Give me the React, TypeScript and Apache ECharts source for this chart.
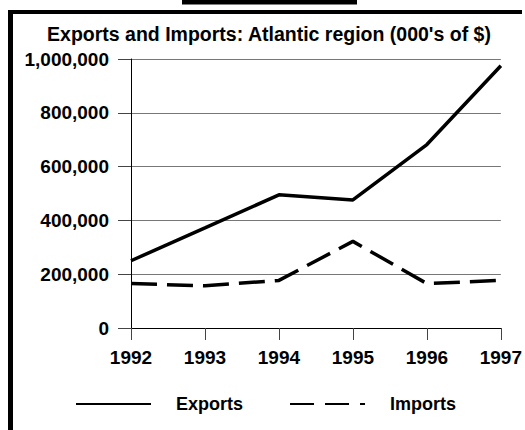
import React, { useEffect, useRef } from "react";
import * as echarts from "echarts";

const years = ["1992", "1993", "1994", "1995", "1996", "1997"];
const exportsValues = [250000, 372000, 495000, 476000, 682000, 975000];
const importsValues = [165000, 157000, 177000, 322000, 165000, 177000];
const titleText = "Exports and Imports: Atlantic region (000's of $)";
const seriesNames = ["Exports", "Imports"];

const FONT = "'Liberation Sans', Arial, sans-serif";

export default function App() {
  const ref = useRef<HTMLDivElement>(null);
  useEffect(() => {
    if (!ref.current) return;
    const chart = echarts.init(ref.current, null, { renderer: "svg" });
    chart.setOption({
      animation: false,
      backgroundColor: "#fff",
      textStyle: { fontFamily: FONT },
      graphic: [
        { type: "rect", shape: { x: 182, y: 0, width: 175, height: 4.5 }, style: { fill: "#000" } },
        { type: "rect", shape: { x: 8, y: 10, width: 514, height: 4 }, style: { fill: "#000" } },
        { type: "rect", shape: { x: 8, y: 10, width: 5, height: 420 }, style: { fill: "#000" } },
        {
          type: "text",
          x: 269,
          y: 34,
          style: {
            text: titleText,
            fill: "#000",
            font: `bold 19.5px ${FONT}`,
            textAlign: "center",
            textVerticalAlign: "middle",
          },
        },
      ],
      grid: { left: 131, right: 23, top: 59, bottom: 102 },
      xAxis: {
        type: "category",
        data: years,
        boundaryGap: false,
        axisLine: { lineStyle: { color: "#000", width: 1 } },
        axisTick: { show: true, length: 12, lineStyle: { color: "#444" } },
        axisLabel: {
          color: "#000",
          fontFamily: FONT,
          fontWeight: "bold",
          fontSize: 19,
          margin: 20,
        },
        splitLine: { show: false },
      },
      yAxis: {
        type: "value",
        min: 0,
        max: 1000000,
        interval: 200000,
        axisLine: { show: true, lineStyle: { color: "#000", width: 1 } },
        axisTick: { show: true, length: 13, lineStyle: { color: "#444" } },
        axisLabel: {
          color: "#000",
          fontFamily: FONT,
          fontWeight: "bold",
          fontSize: 19,
          margin: 22,
          formatter: (v: number) => v.toLocaleString("en-US"),
        },
        splitLine: { show: true, lineStyle: { color: "#777", width: 1 } },
      },
      legend: {
        left: 75,
        top: 395,
        padding: 0,
        itemWidth: 75,
        itemHeight: 14,
        itemGap: 46,
        textStyle: {
          color: "#000",
          fontFamily: FONT,
          fontWeight: "bold",
          fontSize: 18,
          padding: [0, 0, 0, 20],
        },
        data: [
          {
            name: seriesNames[0],
            itemStyle: { opacity: 0 },
            lineStyle: { width: 2, type: "solid", color: "#000" },
          },
          {
            name: seriesNames[1],
            itemStyle: { opacity: 0 },
            lineStyle: { width: 2, type: [24, 11], color: "#000" },
          },
        ],
      },
      series: [
        {
          name: seriesNames[0],
          type: "line",
          data: exportsValues,
          symbol: "none",
          lineStyle: { color: "#000", width: 3.5 },
          itemStyle: { color: "#000" },
        },
        {
          name: seriesNames[1],
          type: "line",
          data: importsValues,
          symbol: "none",
          lineStyle: { color: "#000", width: 3.5, type: [26, 10] },
          itemStyle: { color: "#000" },
        },
      ],
    });
    return () => chart.dispose();
  }, []);
  return (
    <div
      ref={ref}
      style={{ position: "fixed", left: 0, top: 0, width: 525, height: 430, background: "#fff" }}
    />
  );
}
